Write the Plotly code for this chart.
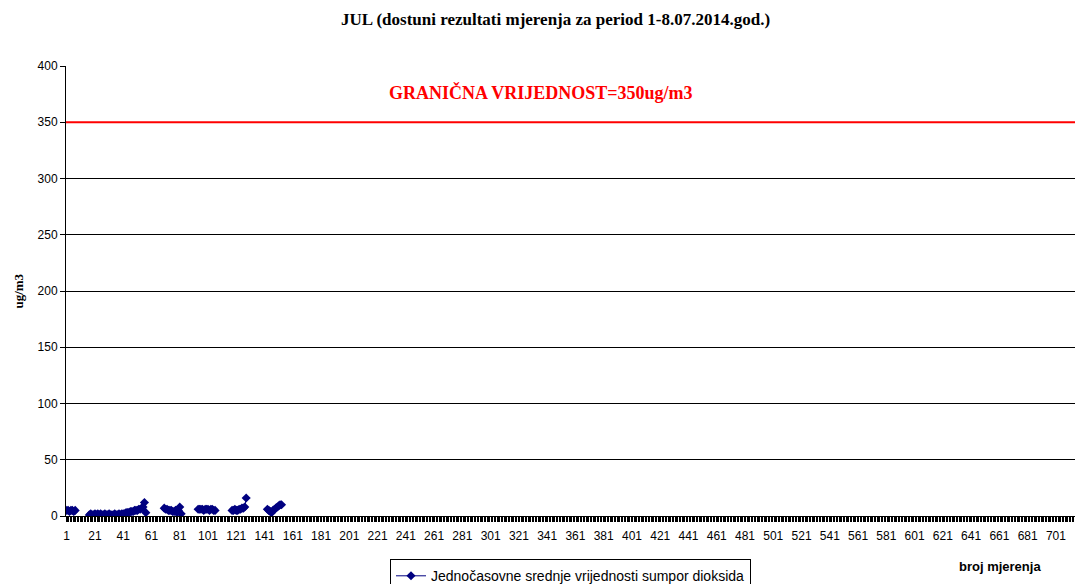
import plotly.graph_objects as go

# ---- data ----
n_categories = 714
measure_idx = [1, 2, 3, 4, 5, 6, 7,
               17, 18, 19, 20, 21, 22, 23, 24, 25, 26, 27, 28, 29, 30, 31, 32, 33, 34, 35, 36, 37,
               38, 39, 40, 41, 42, 43, 44, 45, 46, 47, 48, 49, 50, 51, 52, 53, 54, 55, 56, 57,
               70, 71, 72, 73, 74, 75, 76, 77, 78, 79, 80, 81, 82,
               94, 95, 96, 97, 98, 99, 100, 101, 102, 103, 104, 105, 106,
               118, 119, 120, 121, 122, 123, 124, 125, 126, 127, 128,
               143, 144, 145, 146, 147, 148, 149, 150, 151, 152, 153]
measure_val = [5, 5, 4, 5, 5, 4, 5,
               1, 2, 1, 1, 2, 1, 2, 1, 2, 1, 1, 2, 1, 1, 2, 1, 1, 1, 2, 1, 1,
               2, 1, 2, 2, 2, 3, 3, 3, 4, 4, 4, 5, 5, 5, 6, 6, 7, 8, 12, 3,
               7, 6, 6, 5, 5, 5, 4, 4, 5, 3, 5, 8, 2,
               6, 6, 6, 6, 5, 6, 6, 6, 5, 6, 6, 5, 5,
               5, 5, 6, 5, 5, 6, 6, 7, 7, 8, 16,
               6, 5, 4, 3, 5, 6, 7, 8, 9, 10, 10]
limit_value = 350
tick_labels = list(range(1, 702, 20))

categories = list(range(1, n_categories + 1))
series = [None] * n_categories
for i, v in zip(measure_idx, measure_val):
    series[i - 1] = v

SERIF = "Liberation Serif, Times New Roman, serif"
SANS = "Liberation Sans, Arial, sans-serif"

fig = go.Figure()
fig.add_trace(go.Scatter(
    x=categories, y=series, mode="lines+markers",
    name="Jednočasovne srednje vrijednosti sumpor dioksida",
    line=dict(color="#000080", width=1),
    marker=dict(symbol="diamond", size=7, color="#000080"),
    connectgaps=False,
))
fig.add_trace(go.Scatter(
    x=[0.5, n_categories + 0.5], y=[limit_value, limit_value], mode="lines",
    line=dict(color="#ff0000", width=2), showlegend=False, hoverinfo="skip",
))
# invisible trace on the overlay axis carrying the per-category tick marks
fig.add_trace(go.Scatter(
    x=[0.5, n_categories + 0.5], y=[None, None], xaxis="x2", mode="lines",
    showlegend=False, hoverinfo="skip",
))

fig.update_layout(
    width=1075, height=584,
    margin=dict(l=66, r=0, t=66, b=68, autoexpand=False),
    paper_bgcolor="white", plot_bgcolor="white",
    font=dict(family=SANS, size=12, color="black"),
    showlegend=True,
    legend=dict(orientation="h", x=0.5, xanchor="center", y=-0.096, yanchor="top",
                bordercolor="black", borderwidth=1, bgcolor="white",
                font=dict(family=SANS, size=14)),
    xaxis=dict(
        range=[0.5, n_categories + 0.5], tickmode="array", tickvals=tick_labels,
        ticktext=[str(t) for t in tick_labels], ticks="", showgrid=False,
        showline=True, linecolor="black", linewidth=1, zeroline=False,
        tickfont=dict(size=12, family=SANS), ticklabelstandoff=9, automargin=False,
        ticklabeloverflow="allow",
    ),
    xaxis2=dict(
        range=[0.5, n_categories + 0.5], overlaying="x", side="bottom",
        tickmode="linear", tick0=0.5, dtick=1, ticks="outside", ticklen=5,
        tickcolor="black", tickwidth=1, showticklabels=False, showgrid=False,
        showline=False, zeroline=False, automargin=False,
    ),
    yaxis=dict(
        range=[0, 400], dtick=50, ticks="outside", ticklen=5, tickcolor="black",
        showgrid=True, gridcolor="black", gridwidth=1,
        showline=True, linecolor="black", linewidth=1, zeroline=False,
        tickfont=dict(size=12, family=SANS), automargin=False,
    ),
    annotations=[
        dict(text="<b>JUL (dostuni rezultati mjerenja za period 1-8.07.2014.god.)</b>",
             xref="paper", yref="paper", x=0.485, y=1.104, xanchor="center", yanchor="middle",
             showarrow=False, font=dict(family=SERIF, size=17, color="black")),
        dict(text="<b>GRANIČNA VRIJEDNOST=350ug/m3</b>", xref="paper", yref="paper",
             x=0.47, y=0.942, xanchor="center", yanchor="middle", showarrow=False,
             font=dict(family=SERIF, size=18, color="#ff0000")),
        dict(text="<b>ug/m3</b>", xref="paper", yref="paper", x=-0.048, y=0.5,
             xanchor="center", yanchor="middle", textangle=-90, showarrow=False,
             font=dict(family=SERIF, size=13)),
        dict(text="<b>broj mjerenja</b>", xref="paper", yref="paper", x=0.926, y=-0.113,
             xanchor="center", yanchor="middle", showarrow=False,
             font=dict(family=SANS, size=13)),
    ],
)

fig.write_html(
    "out.html",
    config={"displayModeBar": False},
    post_script="document.body.style.margin='0';document.body.style.overflow='hidden';",
)
